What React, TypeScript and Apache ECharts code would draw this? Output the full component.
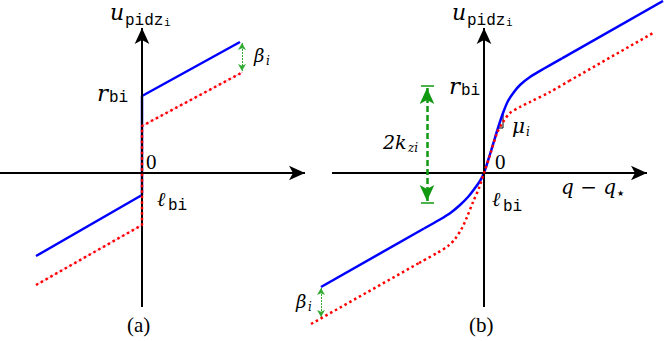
import React, { useEffect, useRef } from "react";
import * as echarts from "echarts";

// Panel (a): discontinuous dead-zone compensation (math units)
const aBlue: number[][] = [[-10.6, -8.3], [0, -2.2], [0, 7.7], [9.8, 13.1]];
const aRed: number[][] = [[-10.6, -11.2], [0, -5.2], [0, 4.7], [10.1, 10.1]];
const aBeta: number[][] = [[10.0, 13.0], [10.0, 10.2]];
const aXAxis: number[][] = [[-14.2, 0], [16.3, 0]];
const aYAxis: number[][] = [[0, -13.4], [0, 14.5]];

// Panel (b): smooth compensation
const bBlueLeft: number[][] = [[-16.3, -11.4], [-6.0, -5.55]];
const bBlueMid: number[][] = [
  [-6.0, -5.55], [-4.4, -4.65], [-3.3, -3.95], [-2.4, -3.2], [-1.6, -2.4], [-0.9, -1.5],
  [-0.4, -0.8], [0, 0], [0.7, 2.2], [1.4, 4.5], [1.9, 6.0], [2.4, 7.2], [3.0, 8.1],
  [3.6, 8.8], [4.6, 9.6], [6.1, 10.5], [7.8, 11.47],
];
const bBlueRight: number[][] = [[7.8, 11.47], [17.9, 17.2]];
const bRedLeft: number[][] = [[-17.3, -15.1], [-6.5, -9.0]];
const bRedMid: number[][] = [
  [-6.5, -9.0], [-4.7, -8.0], [-3.6, -7.3], [-2.9, -6.6], [-2.2, -5.5], [-1.7, -4.4],
  [-1.1, -2.9], [-0.5, -1.5], [0, 0], [0.6, 1.8], [1.3, 4.0], [1.9, 5.1], [2.6, 6.0],
  [3.6, 6.6], [4.6, 7.1], [6.6, 8.1], [8.5, 9.2],
];
const bRedRight: number[][] = [[8.5, 9.2], [16.9, 14.0]];
const bBeta: number[][] = [[-16.3, -11.5], [-16.3, -14.4]];
const bKz: number[][] = [[-5.7, 8.5], [-5.7, -2.8]];
const bKzCapTop: number[][] = [[-6.3, 8.7], [-5.0, 8.7]];
const bKzCapBottom: number[][] = [[-6.3, -3.0], [-5.0, -3.0]];
const bMu: number[][] = [[1.3, 4.5], [1.9, 4.5], [1.9, 6.0]];
const bXAxis: number[][] = [[-15.2, 0], [16.3, 0]];
const bYAxis: number[][] = [[0, -13.4], [0, 14.5]];

// visible windows of each panel (math units)
const aX = [-14.2, 16.9];
const bX = [-17.3, 18.0];
const yWin = [-16.8, 17.3];

const BLUE = "#0000ff";
const RED = "#ff0000";
const GREEN_LIGHT = "#33aa33";
const GREEN_DARK = "#119911";

const MI = '"DejaVu Serif", "Liberation Serif", serif';
const RM = '"Liberation Serif", "DejaVu Serif", serif';
const TT = '"Liberation Mono", "DejaVu Sans Mono", monospace';

type Lbl = [number, number, string, string, number];
// [left x, center y, text, kind, size]
const labels: Lbl[] = [
  [110, 12, "u", "mi", 22], [125, 21, "pidz", "tt", 16], [164, 23, "i", "tt", 11],
  [97, 93, "r", "mi", 23], [109, 98, "bi", "tt", 16],
  [146, 162, "0", "rm", 21],
  [157, 199, "ℓ", "mi", 20], [168, 206, "bi", "tt", 16],
  [254, 55, "β", "mi", 18], [266, 61, "i", "mi", 12],
  [127, 325, "(a)", "rm", 21],
  [452, 12, "u", "mi", 22], [467, 21, "pidz", "tt", 16], [506, 23, "i", "tt", 11],
  [449, 86, "r", "mi", 23], [461, 91, "bi", "tt", 16],
  [495, 162, "0", "rm", 21],
  [492, 199, "ℓ", "mi", 20], [503, 207, "bi", "tt", 16],
  [383, 142, "2k", "mi", 19], [408, 148, "zi", "mi", 12],
  [512, 126, "μ", "mi", 20], [526, 132, "i", "mi", 12],
  [561, 187, "q − q", "mi", 20], [617, 193, "★", "sym", 8],
  [296, 301, "β", "mi", 18], [308, 307, "i", "mi", 12],
  [469, 325, "(b)", "rm", 21],
];

function fontFor(kind: string, size: number) {
  if (kind === "mi") return `italic ${size}px ${MI}`;
  if (kind === "tt") return `${size}px ${TT}`;
  if (kind === "sym") return `${size}px "DejaVu Sans", sans-serif`;
  return `${size}px ${RM}`;
}

function hiddenAxis(gridIndex: number, r: number[]) {
  return {
    gridIndex,
    type: "value" as const,
    min: r[0],
    max: r[1],
    show: false,
  };
}

function seg(coords: number[][], color: string, width: number, dash: any, sym: string[]) {
  return [
    { coord: coords[0], lineStyle: { color, width, type: dash }, symbol: sym[0] },
    { coord: coords[1], symbol: sym[1] },
  ];
}

function marks(data: any[], size: number[]) {
  return {
    silent: true,
    animation: false,
    label: { show: false },
    emphasis: { disabled: true },
    symbolSize: size,
    data,
  };
}

export default function App() {
  const ref = useRef<HTMLDivElement>(null);
  useEffect(() => {
    if (!ref.current) return;
    const chart = echarts.init(ref.current, undefined, { renderer: "svg" });
    const lineBase = { type: "line" as const, symbol: "none", clip: false, silent: true };
    const A = { xAxisIndex: 0, yAxisIndex: 0 };
    const B = { xAxisIndex: 1, yAxisIndex: 1 };
    const blue = { color: BLUE, width: 2.5 };
    const red = { color: RED, width: 2.5, type: [2.5, 3] };
    chart.setOption({
      animation: false,
      backgroundColor: "#ffffff",
      grid: [
        { left: 0, top: 0, width: 311, height: 341 },
        { left: 311, top: 0, width: 353, height: 341 },
      ],
      xAxis: [hiddenAxis(0, aX), hiddenAxis(1, bX)],
      yAxis: [hiddenAxis(0, yWin), hiddenAxis(1, yWin)],
      series: [
        // axes
        {
          ...lineBase, ...A, data: [], z: 1,
          markLine: marks([
            seg(aXAxis, "#000", 2, "solid", ["none", "arrow"]),
            seg(aYAxis, "#000", 2, "solid", ["none", "arrow"]),
          ], [11, 16]),
        },
        {
          ...lineBase, ...B, data: [], z: 1,
          markLine: marks([
            seg(bXAxis, "#000", 2, "solid", ["none", "arrow"]),
            seg(bYAxis, "#000", 2, "solid", ["none", "arrow"]),
          ], [11, 16]),
        },
        // panel (a)
        { ...lineBase, ...A, data: aBlue, lineStyle: blue, z: 3 },
        { ...lineBase, ...A, data: aRed, lineStyle: { color: "#ff99cc", width: 0.8 }, z: 4 },
        { ...lineBase, ...A, data: aRed, lineStyle: red, z: 5 },
        {
          ...lineBase, ...A, data: [], z: 2,
          markLine: marks([seg(aBeta, GREEN_LIGHT, 1, [2, 1], ["arrow", "arrow"])], [6, 7]),
        },
        // panel (b)
        { ...lineBase, ...B, data: bBlueLeft, lineStyle: blue, z: 3 },
        { ...lineBase, ...B, data: bBlueMid, smooth: 0.3, lineStyle: blue, z: 3 },
        { ...lineBase, ...B, data: bBlueRight, lineStyle: blue, z: 3 },
        { ...lineBase, ...B, data: bRedLeft, lineStyle: red, z: 5 },
        { ...lineBase, ...B, data: bRedMid, smooth: 0.3, lineStyle: red, z: 5 },
        { ...lineBase, ...B, data: bRedRight, lineStyle: red, z: 5 },
        { ...lineBase, ...B, data: bMu, lineStyle: { color: "#000", width: 1 }, z: 2 },
        {
          ...lineBase, ...B, data: [], z: 2,
          markLine: marks([seg(bBeta, GREEN_LIGHT, 1, [2, 1], ["arrow", "arrow"])], [6, 7]),
        },
        {
          ...lineBase, ...B, data: [], z: 2,
          markLine: marks([
            seg(bKz, GREEN_DARK, 2.5, [6, 3], ["arrow", "arrow"]),
            seg(bKzCapTop, GREEN_DARK, 1.5, "solid", ["none", "none"]),
            seg(bKzCapBottom, GREEN_DARK, 1.5, "solid", ["none", "none"]),
          ], [11, 16]),
        },
      ],
      graphic: labels.map(([x, y, text, kind, size]) => ({
        type: "text",
        x,
        y,
        silent: true,
        style: { text, font: fontFor(kind, size), fill: "#000", align: "left", verticalAlign: "middle" },
      })),
    });
    return () => chart.dispose();
  }, []);
  return (
    <div
      ref={ref}
      style={{ position: "absolute", left: 0, top: 0, width: 664, height: 341, background: "#fff" }}
    />
  );
}
